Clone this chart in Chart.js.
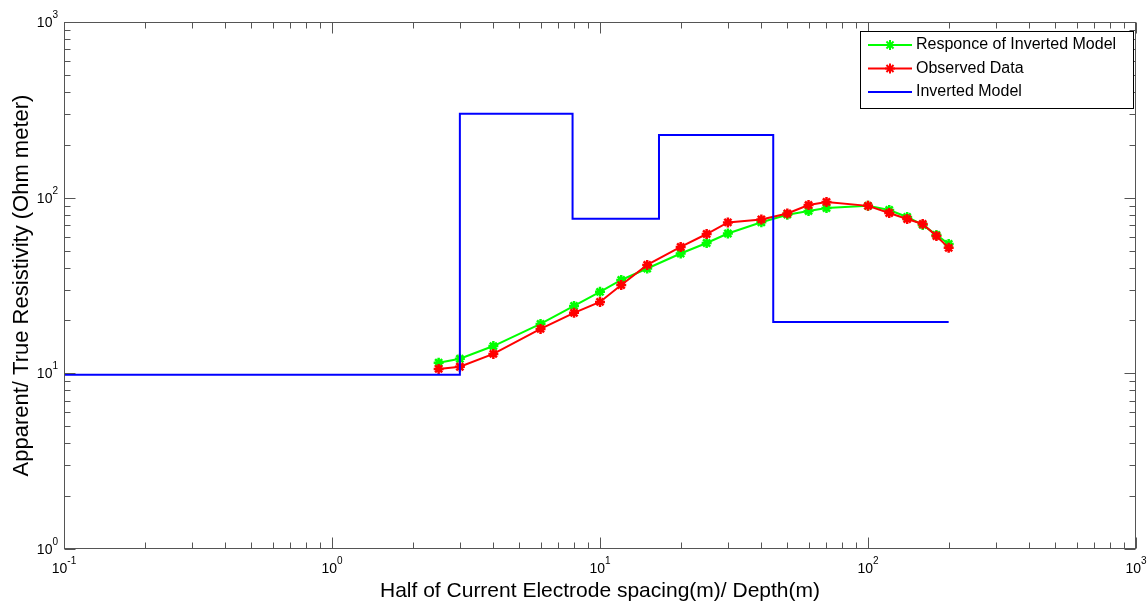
<!DOCTYPE html>
<html>
<head>
<meta charset="utf-8">
<script src="https://cdn.jsdelivr.net/npm/chart.js@4/dist/chart.umd.min.js"></script>
<style>
  html, body { margin: 0; padding: 0; background: #fff; }
  canvas { display: block; }
</style>
</head>
<body>
<canvas id="vesChart" width="1147" height="602"></canvas>
<script>
// AB/2 spacings (m)
const spacing = [2.5, 3, 4, 6, 8, 10, 12, 15, 20, 25, 30, 40, 50, 60, 70, 100, 120, 140, 160, 180, 200];
// apparent resistivity (Ohm m)
const responseRho = [11.5, 12.1, 14.3, 19.1, 24.2, 29.1, 34.0, 39.5, 48.1, 55.2, 62.5, 72.4, 80.0, 84.0, 87.3, 89.8, 85.1, 77.6, 70.0, 61.4, 54.5];
const observedRho = [10.6, 10.9, 12.9, 17.9, 22.1, 25.5, 31.8, 41.4, 52.4, 62.1, 72.3, 75.2, 81.3, 90.8, 94.6, 89.8, 81.8, 75.6, 70.8, 60.5, 51.8];
// layered model: depth of each step and true resistivity after it
const modelDepth = [0.1, 3, 7.9, 16.6, 44.3, 200];
const modelRho = [9.8, 300, 75.8, 227, 19.6, 19.6];
// decade exponents for the tick labels
const xDecades = [-1, 0, 1, 2, 3];
const yDecades = [0, 1, 2, 3];

const FONT = "'Liberation Sans', Arial, Helvetica, sans-serif";
const AXIS_COLOR = '#555';

const toPoints = (xs, ys) => xs.map((x, i) => ({ x: x, y: ys[i] }));

function drawPow(ctx, exp, x, y, anchor) {
    const base = '10', sup = String(exp);
    ctx.font = '14px ' + FONT;
    const wb = ctx.measureText(base).width;
    ctx.font = '10px ' + FONT;
    const ws = ctx.measureText(sup).width;
    const x0 = anchor === 'right' ? x - wb - ws : x - (wb + ws) / 2;
    ctx.textAlign = 'left';
    ctx.textBaseline = 'alphabetic';
    ctx.fillStyle = '#000';
    ctx.font = '14px ' + FONT;
    ctx.fillText(base, x0, y);
    ctx.font = '10px ' + FONT;
    ctx.fillText(sup, x0 + wb, y - 9);
}

function drawStar(ctx, x, y, r) {
    const d = r * Math.SQRT1_2;
    ctx.beginPath();
    ctx.moveTo(x - r, y); ctx.lineTo(x + r, y);
    ctx.moveTo(x, y - r); ctx.lineTo(x, y + r);
    ctx.moveTo(x - d, y - d); ctx.lineTo(x + d, y + d);
    ctx.moveTo(x - d, y + d); ctx.lineTo(x + d, y - d);
    ctx.stroke();
}

// matlab style box, inward ticks and 10^n labels
const matlabAxes = {
    id: 'matlabAxes',
    afterDraw(chart) {
        const { ctx, chartArea: a, scales: { x, y } } = chart;
        const L = Math.round(a.left) + 0.5, R = Math.round(a.right) - 0.5;
        const T = Math.round(a.top) + 0.5, B = Math.round(a.bottom) - 0.5;
        ctx.save();
        ctx.strokeStyle = AXIS_COLOR;
        ctx.lineWidth = 1;
        ctx.strokeRect(L, T, R - L, B - T);

        ctx.beginPath();
        xDecades.forEach(e => {
            for (let m = 1; m <= 9; m++) {
                const v = m * Math.pow(10, e);
                if (v > x.max * 1.0001) break;
                const px = Math.round(x.getPixelForValue(v)) + 0.5;
                const len = m === 1 ? 11 : 6;
                ctx.moveTo(px, B); ctx.lineTo(px, B - len);
                ctx.moveTo(px, T); ctx.lineTo(px, T + len);
            }
        });
        yDecades.forEach(e => {
            for (let m = 1; m <= 9; m++) {
                const v = m * Math.pow(10, e);
                if (v > y.max * 1.0001) break;
                const py = Math.round(y.getPixelForValue(v)) + 0.5;
                const len = m === 1 ? 11 : 6;
                ctx.moveTo(L, py); ctx.lineTo(L + len, py);
                ctx.moveTo(R, py); ctx.lineTo(R - len, py);
            }
        });
        ctx.stroke();

        xDecades.forEach(e => drawPow(ctx, e, x.getPixelForValue(Math.pow(10, e)), a.bottom + 24, 'center'));
        yDecades.forEach(e => drawPow(ctx, e, a.left - 6, y.getPixelForValue(Math.pow(10, e)) + 5, 'right'));

        // legend
        const bx = a.right - 276, by = a.top + 9, bw = 273, bh = 77;
        ctx.fillStyle = '#fff';
        ctx.fillRect(bx, by, bw, bh);
        ctx.strokeStyle = '#000';
        ctx.strokeRect(bx + 0.5, by + 0.5, bw, bh);
        chart.data.datasets.forEach((ds, i) => {
            const ly = by + 14 + i * 23.5;
            ctx.strokeStyle = ds.borderColor;
            ctx.lineWidth = 2;
            ctx.beginPath();
            ctx.moveTo(bx + 8, ly); ctx.lineTo(bx + 52, ly);
            ctx.stroke();
            if (ds.pointRadius > 0) drawStar(ctx, bx + 30, ly, ds.pointRadius);
            ctx.fillStyle = '#000';
            ctx.font = '16px ' + FONT;
            ctx.textAlign = 'left';
            ctx.textBaseline = 'middle';
            ctx.fillText(ds.label, bx + 56, ly);
        });
        ctx.restore();
    }
};

Chart.defaults.font.family = FONT;

new Chart(document.getElementById('vesChart'), {
    type: 'line',
    data: {
        datasets: [
            {
                label: 'Responce of Inverted Model',
                data: toPoints(spacing, responseRho),
                borderColor: '#00ff00',
                backgroundColor: '#00ff00',
                borderWidth: 2,
                pointStyle: 'star',
                pointRadius: 5,
                pointBorderWidth: 2.5,
                pointBorderColor: '#00ff00',
                order: 3,
            },
            {
                label: 'Observed Data',
                data: toPoints(spacing, observedRho),
                borderColor: '#ff0000',
                backgroundColor: '#ff0000',
                borderWidth: 2,
                pointStyle: 'star',
                pointRadius: 5,
                pointBorderWidth: 2.5,
                pointBorderColor: '#ff0000',
                order: 2,
            },
            {
                label: 'Inverted Model',
                data: toPoints(modelDepth, modelRho),
                borderColor: '#0000ff',
                backgroundColor: '#0000ff',
                borderWidth: 2,
                pointRadius: 0,
                stepped: 'before',
                order: 1,
            }
        ]
    },
    options: {
        responsive: false,
        animation: false,
        devicePixelRatio: 1,
        layout: { padding: { top: 22, right: 11, left: 0, bottom: 0 } },
        plugins: {
            legend: { display: false },
            tooltip: { enabled: false },
        },
        scales: {
            x: {
                type: 'logarithmic',
                min: 0.1,
                max: 1000,
                grid: { display: false },
                border: { display: false },
                ticks: { display: false },
                title: {
                    display: true,
                    text: 'Half of Current Electrode spacing(m)/ Depth(m)',
                    color: '#000',
                    font: { size: 21, lineHeight: 1 },
                    padding: { top: 0, bottom: 0 },
                },
                afterFit: s => { s.height = 53; },
            },
            y: {
                type: 'logarithmic',
                min: 1,
                max: 1000,
                grid: { display: false },
                border: { display: false },
                ticks: { display: false },
                title: {
                    display: true,
                    text: 'Apparent/ True Resistivity (Ohm meter)',
                    color: '#000',
                    font: { size: 22, lineHeight: 1 },
                    padding: { top: 11, bottom: 0 },
                },
                afterFit: s => { s.width = 64; },
            }
        }
    },
    plugins: [matlabAxes]
});
</script>
</body>
</html>
